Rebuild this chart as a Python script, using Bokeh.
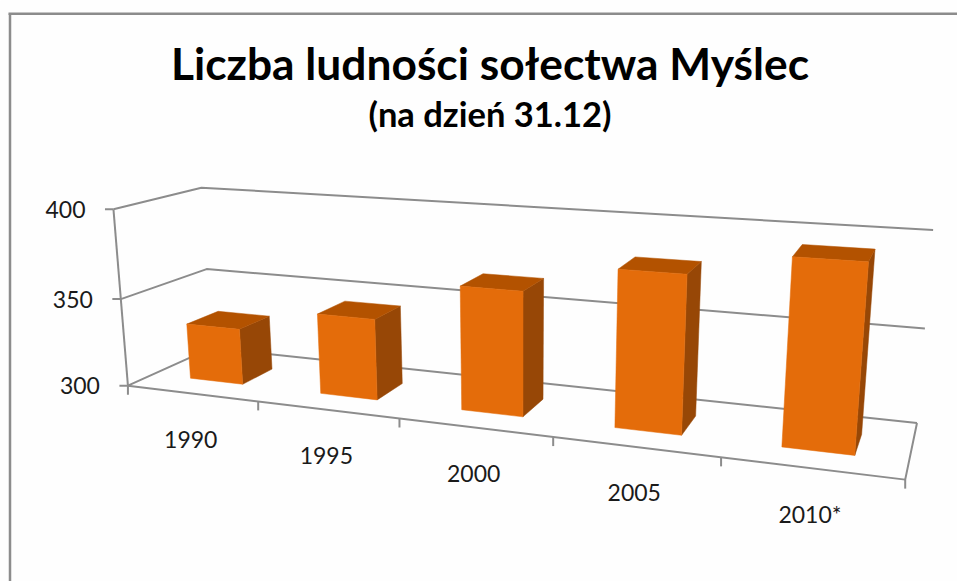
import numpy as np
from bokeh.plotting import figure
from bokeh.models import Range1d
from bokeh.core.properties import value
from bokeh.embed import file_html
from bokeh.resources import INLINE

# ---- chart content
title_text = "Liczba ludności sołectwa Myślec"
subtitle_text = "(na dzień 31.12)"
categories = ["1990", "1995", "2000", "2005", "2010*"]
population = [332, 345, 367, 382, 394]
y_ticks = [300, 350, 400]

# ---- camera: anchors of the 3-D chart box (u across, v up, w into the page) to page pixels
box_world = [(0, 0, 0), (0, .5, 0), (0, 1, 0), (0, 1, 1), (0, .5, 1), (0, 0, 1),
             (1, 0, 0), (1, 0, 1), (1, .5, 1), (1, 1, 1),
             (.2, 0, 0), (.4, 0, 0), (.6, 0, 0), (.8, 0, 0)]
box_page = [(127.5, 385), (120.7, 297.7), (112.7, 208.7), (201, 187.3), (206, 268.7), (211, 347.5),
            (905, 478.3), (916.7, 421.7), (924.3, 328), (932.7, 230),
            (258, 401.7), (398.7, 418), (552.7, 436.7), (720, 458)]

A = []
for (u, v, w), (x, y) in zip(box_world, box_page):
    x, y = x / 1000, y / 1000
    A.append([u, v, w, 1, 0, 0, 0, 0, -x * u, -x * v, -x * w, -x])
    A.append([0, 0, 0, 0, u, v, w, 1, -y * u, -y * v, -y * w, -y])
P = np.linalg.svd(np.array(A))[2][-1].reshape(3, 4)


def project(u, v, w):
    q = P @ np.array([u, v, w, 1.0])
    return 1000 * q[0] / q[2], 1000 * q[1] / q[2]


def val(y):
    return (y - y_ticks[0]) / (y_ticks[-1] - y_ticks[0])


def poly(*pts):
    xy = [project(*pt) for pt in pts]
    return [a for a, _ in xy], [b for _, b in xy]


p = figure(width=957, height=581, x_range=Range1d(0, 957), y_range=Range1d(581, 0),
           x_axis_location=None, y_axis_location=None, toolbar_location=None,
           output_backend="svg", min_border=0, outline_line_color=None,
           background_fill_color="#FEFEFE", border_fill_color="#FEFEFE")
p.grid.visible = False

GREY = "#8C8C8C"
# chart-area border
p.multi_line([[9.5, 9.5], [8, 957]], [[13, 581], [13.3, 13.3]], line_color=GREY, line_width=2.5)

# walls: gridlines and floor
lx, ly = [], []
for t in y_ticks:
    v = val(t)
    a, b = poly((0, v, 0), (0, v, 1), (1, v, 1))
    lx.append(a); ly.append(b)
a, b = poly((0, 0, 0), (1, 0, 0), (1, 0, 1))
lx.append(a); ly.append(b)
a, b = poly((0, 0, 0), (0, 1, 0))
lx.append(a); ly.append(b)
# ticks
for i in range(len(categories) + 1):
    x0, y0 = project(i / len(categories), 0, 0)
    lx.append([x0, x0]); ly.append([y0, y0 + 9])
for t in y_ticks:
    x0, y0 = project(0, val(t), 0)
    lx.append([x0 - 8.5, x0]); ly.append([y0, y0])
p.multi_line(lx, ly, line_color=GREY, line_width=2)

# bars
n = len(categories)
w0, w1 = 0.29, 0.67
for i, pop in enumerate(population):
    c = (i + .5) / n
    v = val(pop)
    u0, u1 = c - 0.205 / n, c + 0.205 / n
    a, b = poly((u1, 0, w0), (u1, 0, w1), (u1, v, w1), (u1, v, w0))
    p.patch(a, b, fill_color="#974706", line_color="#974706", line_width=0.5)
    a, b = poly((u0, v, w0), (u1, v, w0), (u1, v, w1), (u0, v, w1))
    p.patch(a, b, fill_color="#B35200", line_color="#B35200", line_width=0.5)
    a, b = poly((u0, 0, w0), (u1, 0, w0), (u1, v, w0), (u0, v, w0))
    p.patch(a, b, fill_color="#E46C0A", line_color="#E46C0A", line_width=0.5)

font = value("Lato")
# axis labels
tx, ty = [], []
for i in range(n):
    x0, y0 = project((i + .5) / n, 0, 0)
    tx.append(x0 - 1); ty.append(y0 + 46)
p.text(tx, ty, text=categories, text_font=font, text_font_size="23px",
       text_color="#1A1A1A", text_align="center", text_baseline="middle")
tx, ty = [], []
for t in y_ticks:
    x0, y0 = project(0, val(t), 0)
    tx.append(x0 - 28); ty.append(y0)
p.text(tx, ty, text=[str(t) for t in y_ticks], text_font=font, text_font_size="23px",
       text_color="#1A1A1A", text_align="right", text_baseline="middle")

# titles
p.text([489.5], [62], text=[title_text], text_font=font, text_font_size="44.3px",
       text_font_style="bold", text_color="#000000", text_align="center", text_baseline="alphabetic")
p.text([489.5], [113], text=[subtitle_text], text_font=font, text_font_size="34.5px",
       text_font_style="bold", text_color="#000000", text_align="center", text_baseline="alphabetic")

open("out.html", "w").write(file_html(p, INLINE))
